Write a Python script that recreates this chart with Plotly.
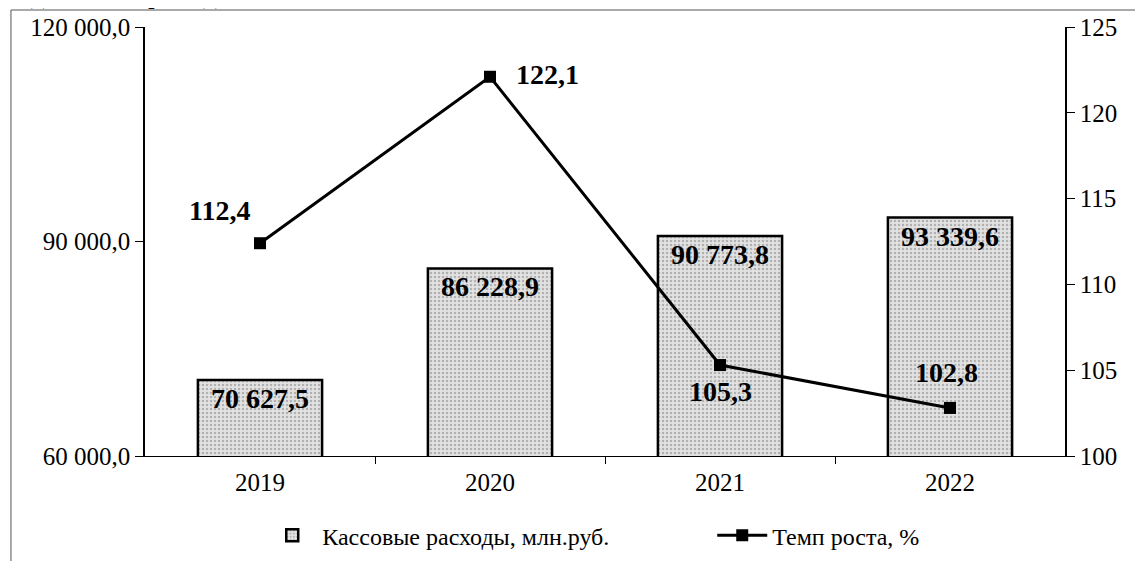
import plotly.graph_objects as go

years = ["2019", "2020", "2021", "2022"]
cash_expenses = [70627.5, 86228.9, 90773.8, 93339.6]
cash_labels = ["70 627,5", "86 228,9", "90 773,8", "93 339,6"]
growth_rate = [112.4, 122.1, 105.3, 102.8]
growth_labels = ["112,4", "122,1", "105,3", "102,8"]
left_tickvals = [60000, 90000, 120000]
left_ticktext = ["60 000,0", "90 000,0", "120 000,0"]
right_tickvals = [100, 105, 110, 115, 120, 125]

serif = "Times New Roman, Liberation Serif, serif"
tick_font = dict(family=serif, size=25, color="black")
x_pos = list(range(len(years)))
boundaries = [p + 0.5 for p in x_pos[:-1]]

fig = go.Figure()
fig.add_trace(
    go.Bar(
        x=x_pos,
        y=cash_expenses,
        name="Кассовые расходы, млн.руб.",
        text=["<b>" + t + "</b>" for t in cash_labels],
        textposition="inside",
        insidetextanchor="end",
        textfont=dict(family=serif, size=28, color="black"),
        marker=dict(
            color="#e2e2e2",
            line=dict(color="black", width=2.5),
            pattern=dict(shape=".", fgcolor="#808080", size=4, solidity=0.3),
        ),
        yaxis="y",
    )
)
fig.add_trace(
    go.Scatter(
        x=x_pos,
        y=growth_rate,
        name="Темп роста, %",
        mode="lines+markers",
        line=dict(color="black", width=3),
        marker=dict(symbol="square", size=12, color="black"),
        yaxis="y2",
    )
)

# labels of the line points, offsets as in the source picture
label_shifts = [(-41, 33), (57, 2), (0, -26), (-4, 35)]
for xp, val, txt, (dx, dy) in zip(x_pos, growth_rate, growth_labels, label_shifts):
    fig.add_annotation(
        x=xp, y=val, xref="x", yref="y2", text="<b>" + txt + "</b>", showarrow=False,
        xshift=dx, yshift=dy,
        font=dict(family=serif, size=28, color="black"),
    )

# clipped line of page text above the chart
fig.add_annotation(
    x=-0.1658, y=1.0758, xref="paper", yref="paper", xanchor="left", yanchor="middle",
    text="следние четыре года.", showarrow=False,
    font=dict(family=serif, size=27, color="black"),
)

# outer chart frame
fig.add_shape(
    type="rect", xref="paper", yref="paper",
    x0=-0.1457, x1=1.2, y0=-0.4, y1=1.0396,
    line=dict(color="#555555", width=1), layer="below",
)

# page body adds an 8px offset, so the figure is a bit smaller than the window
fig.update_layout(
    width=1135,
    height=553,
    margin=dict(l=137, r=78, t=19, b=105, autoexpand=False),
    plot_bgcolor="white",
    paper_bgcolor="white",
    font=dict(family=serif, size=25, color="black"),
    bargap=0.46,
    legend=dict(
        orientation="h", xref="container", x=0.224, xanchor="left",
        y=-0.133, yanchor="top",
        font=dict(family=serif, size=24, color="black"),
        itemwidth=50, entrywidth=385,
    ),
    xaxis=dict(
        range=[-0.5, 3.5], tickvals=x_pos, ticktext=years, tickfont=tick_font,
        showline=True, linecolor="black", linewidth=1,
        ticks="", ticklabelstandoff=4, showgrid=False, zeroline=False,
        minor=dict(tickvals=boundaries, ticks="outside", ticklen=7, tickcolor="black",
                   showgrid=False),
    ),
    yaxis=dict(
        range=[60000, 120000], tickvals=left_tickvals, ticktext=left_ticktext,
        tickfont=tick_font,
        showline=True, linecolor="black", linewidth=1.5,
        ticks="outside", ticklen=8, tickcolor="black",
        showgrid=False, zeroline=False,
    ),
    yaxis2=dict(
        range=[100, 125], tickvals=right_tickvals, overlaying="y", side="right",
        tickfont=tick_font,
        showline=True, linecolor="black", linewidth=1.5,
        ticks="outside", ticklen=8, tickcolor="black",
        showgrid=False, zeroline=False,
    ),
)

fig.write_html("out.html")
